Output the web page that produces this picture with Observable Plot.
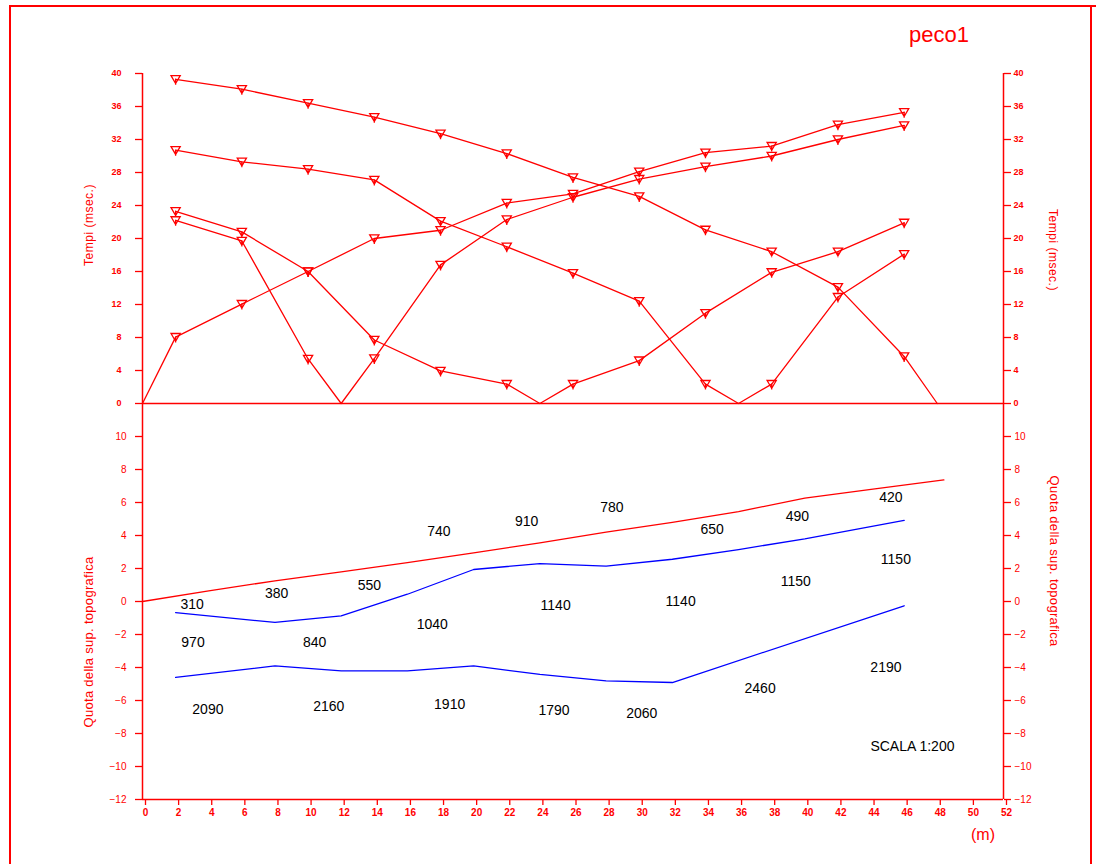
<!DOCTYPE html>
<html><head><meta charset="utf-8">
<script src="https://cdn.jsdelivr.net/npm/d3@7"></script>
<script src="https://cdn.jsdelivr.net/npm/@observablehq/plot@0.6"></script>
<style>
body{margin:0;background:#fff;}
#wrap{position:relative;width:1096px;height:864px;overflow:hidden;background:#fff;font-family:"Liberation Sans",Arial,sans-serif;}
#wrap svg{position:absolute;left:0;top:0;}
.lbl{position:absolute;color:#f00;white-space:nowrap;transform:translate(-50%,-50%);}
.ln{position:absolute;background:#f00;}
</style></head><body><div id="wrap">
<div class="ln" style="left:9px;top:5px;width:1087px;height:1.5px"></div>
<div class="ln" style="left:9px;top:5px;width:1.5px;height:859px"></div>
<div class="ln" style="left:1090px;top:5px;width:1.5px;height:859px"></div>
<div class="lbl" style="left:939px;top:35px;font-size:22px;">peco1</div>
<div class="lbl" style="left:89px;top:225px;font-size:12px;letter-spacing:0.5px;transform:translate(-50%,-50%) rotate(-90deg);">Tempi (msec.)</div>
<div class="lbl" style="left:1053px;top:250px;font-size:12px;letter-spacing:0.5px;transform:translate(-50%,-50%) rotate(90deg);">Tempi (msec.)</div>
<div class="lbl" style="left:88px;top:642px;font-size:13px;letter-spacing:0.3px;transform:translate(-50%,-50%) rotate(-90deg);">Quota della sup. topografica</div>
<div class="lbl" style="left:1054px;top:561px;font-size:13px;letter-spacing:0.3px;transform:translate(-50%,-50%) rotate(90deg);">Quota della sup. topografica</div>
<div class="lbl" style="left:983px;top:835px;font-size:16px;">(m)</div>
</div>
<script>
// ---- axis ticks ----
const xTicks = [0,2,4,6,8,10,12,14,16,18,20,22,24,26,28,30,32,34,36,38,40,42,44,46,48,50,52];
const timeTicks = [0,4,8,12,16,20,24,28,32,36,40];
const quotaTicks = [-12,-10,-8,-6,-4,-2,0,2,4,6,8,10];

// ---- dromocrone (travel times, msec) ----
const geophones = [2,6,10,14,18,22,26,30,34,38,42,46];
const shots = [0,12,24,36,48];
const times0  = [8.05,12.05,16.0,20.0,21.0,24.3,25.4,28.1,30.4,31.2,33.8,35.3];
const times12 = [22.2,19.7,5.4,5.45,16.8,22.3,25.0,27.2,28.7,30.0,32.0,33.7];
const times24 = [23.3,20.8,16.0,7.7,3.95,2.35,2.35,5.2,10.95,15.9,18.4,21.9];
const times36 = [30.7,29.3,28.4,27.1,22.1,19.0,15.8,12.4,2.35,2.35,12.9,18.1];
const times48 = [39.3,38.1,36.4,34.7,32.7,30.3,27.4,25.1,21.05,18.4,14.1,5.7];
const shotTimes = [times0,times12,times24,times36,times48];

// ---- section (quota, m) ----
const topoX = [0,4,8,12,16,20,24,28,32,36,40,44,48.4];
const topoY = [0,0.65,1.25,1.8,2.35,2.95,3.55,4.2,4.8,5.45,6.27,6.8,7.37];
const refr1X = [2,8,12,16,20,24,28,32,36,40,46];
const refr1Y = [-0.67,-1.27,-0.87,0.44,1.94,2.3,2.14,2.56,3.15,3.8,4.92];
const refr2X = [2,8,12,16,20,24,28,32,46];
const refr2Y = [-4.6,-3.9,-4.2,-4.2,-3.9,-4.42,-4.81,-4.91,-0.26];

// velocity labels (m/s)
const velText = ["310","380","550","740","910","780","650","490","420",
                 "970","840","1040","1140","1140","1150","1150",
                 "2090","2160","1910","1790","2060","2460","2190"];
const velX = [3.0,8.1,13.7,17.9,23.2,28.35,34.4,39.55,45.2,
              3.05,10.4,17.5,24.95,32.5,39.45,45.5,
              3.95,11.25,18.55,24.85,30.15,37.3,44.9];
const velY = [-0.16,0.48,0.99,4.22,4.86,5.67,4.36,5.17,6.28,
              -2.5,-2.5,-1.4,-0.22,-0.02,1.23,2.56,
              -6.52,-6.38,-6.22,-6.62,-6.78,-5.27,-4.0];
const scaleNote = "SCALA 1:200";
const scaleNoteX = 46.5, scaleNoteY = -8.76;

const RED = "#ff0000", BLUE = "#0000ff";

// build rows
const lineRows = [];
const geoRows = [];
shots.forEach((s, i) => {
  const pts = geophones.map((g, j) => ({shot: s, x: g, t: shotTimes[i][j]}));
  pts.forEach(p => geoRows.push(p));
  pts.push({shot: s, x: s, t: 0});
  pts.sort((a, b) => a.x - b.x);
  pts.forEach(p => lineRows.push(p));
});

const geophoneSymbol = {
  draw(ctx) {
    ctx.moveTo(-4.6, -3.6);
    ctx.lineTo(4.6, -3.6);
    ctx.lineTo(0, 4.2);
    ctx.closePath();
    ctx.moveTo(0, -0.5);
    ctx.lineTo(0, 5.5);
  }
};

const wrap = document.getElementById("wrap");

const topPlot = Plot.plot({
  width: 1096, height: 864,
  marginLeft: 142, marginRight: 93, marginTop: 73, marginBottom: 461,
  x: {domain: [0, 52], axis: null},
  y: {domain: [0, 40], axis: null},
  style: {background: "transparent", color: RED, fontSize: "9px", fontWeight: "bold", fontFamily: "Liberation Sans, Arial, sans-serif", overflow: "visible"},
  marks: [
    Plot.axisY(timeTicks, {anchor: "left", tickSize: 7, tickPadding: 14, label: null, strokeWidth: 1.3}),
    Plot.axisY(timeTicks, {anchor: "right", tickSize: 7, tickPadding: 3, label: null, strokeWidth: 1.3}),
    Plot.ruleX([0, 52], {stroke: RED, strokeWidth: 1.5}),
    Plot.ruleY([0], {stroke: RED, strokeWidth: 1.5}),
    Plot.line(lineRows, {x: "x", y: "t", z: "shot", stroke: RED, strokeWidth: 1.3}),
    Plot.dot(geoRows, {x: "x", y: "t", symbol: geophoneSymbol, stroke: RED, fill: "none", strokeWidth: 1.3})
  ]
});
wrap.appendChild(topPlot);

const velRows = velText.map((t, i) => ({text: t, x: velX[i], y: velY[i]}));
const mk = (xs, ys) => xs.map((x, i) => ({x, y: ys[i]}));

const botPlot = Plot.plot({
  width: 1096, height: 864,
  marginLeft: 142, marginRight: 93, marginTop: 403, marginBottom: 65,
  x: {domain: [0, 52], axis: null},
  y: {domain: [-12, 12], axis: null},
  style: {background: "transparent", color: RED, fontSize: "10px", fontFamily: "Liberation Sans, Arial, sans-serif", overflow: "visible"},
  marks: [
    Plot.axisY(quotaTicks, {anchor: "left", tickSize: 7, tickPadding: 9, label: null, strokeWidth: 1.3}),
    Plot.axisY(quotaTicks, {anchor: "right", tickSize: 7, tickPadding: 4, label: null, strokeWidth: 1.3}),
    Plot.axisX(xTicks, {anchor: "bottom", tickSize: 6, tickPadding: 3, dx: 3, label: null, strokeWidth: 1.3, fontWeight: "bold"}),
    Plot.ruleX([0, 52], {stroke: RED, strokeWidth: 1.5}),
    Plot.ruleY([-12], {stroke: RED, strokeWidth: 1.5}),
    Plot.line(mk(topoX, topoY), {x: "x", y: "y", stroke: RED, strokeWidth: 1.3}),
    Plot.line(mk(refr1X, refr1Y), {x: "x", y: "y", stroke: BLUE, strokeWidth: 1.3}),
    Plot.line(mk(refr2X, refr2Y), {x: "x", y: "y", stroke: BLUE, strokeWidth: 1.3}),
    Plot.text(velRows, {x: "x", y: "y", text: "text", fill: "black", fontSize: 14}),
    Plot.text([scaleNote], {x: () => scaleNoteX, y: () => scaleNoteY, text: d => d, fill: "black", fontSize: 14})
  ]
});
wrap.appendChild(botPlot);
</script>
</body></html>
